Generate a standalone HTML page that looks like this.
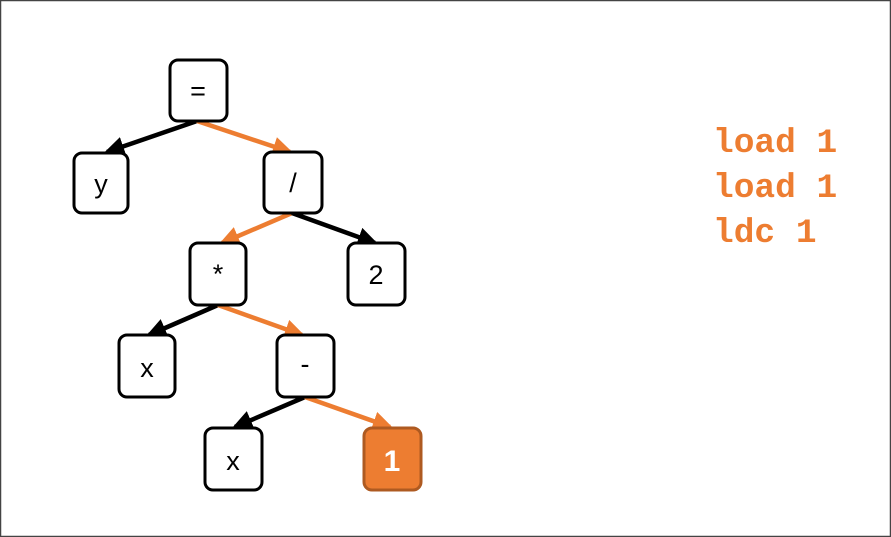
<!DOCTYPE html>
<html><head><meta charset="utf-8"><style>
html,body{margin:0;padding:0;background:#fff;}
svg{display:block;}
</style></head><body>
<svg width="891" height="537" viewBox="0 0 891 537" xmlns="http://www.w3.org/2000/svg">
<rect x="0.5" y="0.5" width="890" height="536" fill="#fff" stroke="#444" stroke-width="1.5"/>
<defs>
<marker id="ab" markerWidth="4.6" markerHeight="4.4" refX="3.8" refY="2.2" orient="auto" markerUnits="strokeWidth"><path d="M0,0 L4.6,2.2 L0,4.4 Z" fill="#000"/></marker>
<marker id="ao" markerWidth="4.6" markerHeight="4.4" refX="3.8" refY="2.2" orient="auto" markerUnits="strokeWidth"><path d="M0,0 L4.6,2.2 L0,4.4 Z" fill="#ED7D31"/></marker>
</defs>
<g stroke-width="4.5" fill="none">
<line x1="197" y1="121" x2="107" y2="152" stroke="#000" marker-end="url(#ab)"/>
<line x1="197" y1="121" x2="290" y2="152" stroke="#ED7D31" marker-end="url(#ao)"/>
<line x1="292" y1="213" x2="222" y2="243" stroke="#ED7D31" marker-end="url(#ao)"/>
<line x1="292" y1="213" x2="375" y2="243" stroke="#000" marker-end="url(#ab)"/>
<line x1="218" y1="305" x2="149" y2="335" stroke="#000" marker-end="url(#ab)"/>
<line x1="218" y1="305" x2="302" y2="335" stroke="#ED7D31" marker-end="url(#ao)"/>
<line x1="305" y1="397" x2="235" y2="427" stroke="#000" marker-end="url(#ab)"/>
<line x1="305" y1="397" x2="390" y2="427" stroke="#ED7D31" marker-end="url(#ao)"/>
</g>
<g fill="#fff" stroke="#000" stroke-width="3">
<rect x="170" y="60" width="57" height="61" rx="8"/>
<rect x="74" y="153" width="54" height="60" rx="8"/>
<rect x="264" y="152" width="58" height="61" rx="8"/>
<rect x="190" y="243" width="56" height="62" rx="8"/>
<rect x="348" y="243" width="57" height="62" rx="8"/>
<rect x="119" y="335" width="56" height="62" rx="8"/>
<rect x="277" y="335" width="57" height="62" rx="8"/>
<rect x="205" y="428" width="57" height="62" rx="8"/>
</g>
<rect x="364" y="428" width="57" height="62" rx="8" fill="#ED7D31" stroke="#AE5A21" stroke-width="3"/>
<g font-family="Liberation Sans, sans-serif" font-size="27" text-anchor="middle" fill="#000">
<text x="198" y="100">=</text>
<text x="101" y="193">y</text>
<text x="293" y="192">/</text>
<text x="218" y="283">*</text>
<text x="376" y="284">2</text>
<text x="147" y="377">x</text>
<text x="305" y="373">-</text>
<text x="233" y="470">x</text>
<text x="392" y="471" fill="#fff" font-weight="bold" font-size="30">1</text>
</g>
<g font-family="Liberation Mono, monospace" font-weight="bold" font-size="34.5" fill="#ED7D31">
<text x="713" y="152">load 1</text>
<text x="713" y="197">load 1</text>
<text x="713" y="242">ldc 1</text>
</g>
</svg>
</body></html>
